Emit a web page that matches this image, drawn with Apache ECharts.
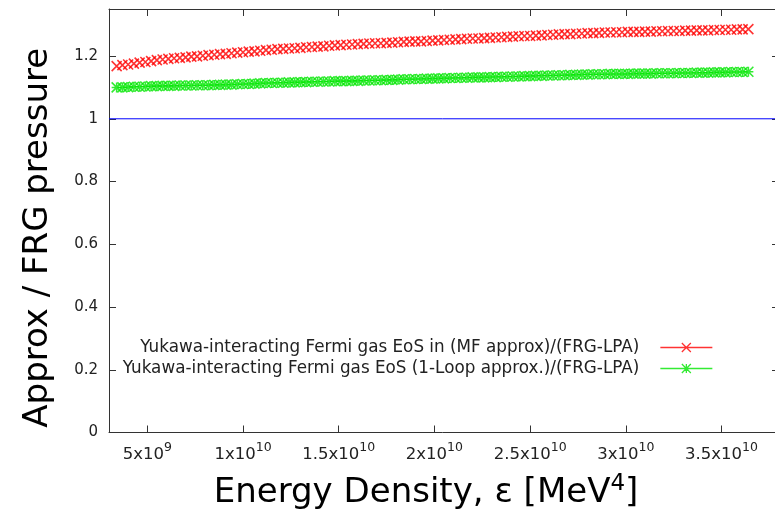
<!DOCTYPE html>
<html>
<head>
<meta charset="utf-8">
<script src="https://cdn.jsdelivr.net/npm/echarts@6/dist/echarts.min.js"></script>
<style>html,body{margin:0;padding:0;background:#fff}#c{width:775px;height:511px}</style>
</head>
<body>
<div id="c"></div>
<script>
// Energy density in units of 1e9 MeV^4
const energyDensityE9 = [
 3.4,3.7,4.0,4.3,4.6,4.9,5.2,5.5,5.8,6.1,6.4,6.7,7.0,7.3,7.6,7.9,8.2,8.5,8.8,9.1,
 9.4,9.7,10.0,10.3,10.6,10.9,11.2,11.5,11.8,12.1,12.4,12.7,13.0,13.3,13.6,13.9,14.2,14.5,14.8,15.1,
 15.4,15.7,16.0,16.3,16.6,16.9,17.2,17.5,17.8,18.1,18.4,18.7,19.0,19.3,19.6,19.9,20.2,20.5,20.8,21.1,
 21.4,21.7,22.0,22.3,22.6,22.9,23.2,23.5,23.8,24.1,24.4,24.7,25.0,25.3,25.6,25.9,26.2,26.5,26.8,27.1,
 27.4,27.7,28.0,28.3,28.6,28.9,29.2,29.5,29.8,30.1,30.4,30.7,31.0,31.3,31.6,31.9,32.2,32.5,32.8,33.1,
 33.4,33.7,34.0,34.3,34.6,34.9,35.2,35.5,35.8,36.1,36.4
];
const mfRatio = [
 1.168,1.171,1.173,1.176,1.179,1.181,1.184,1.187,1.189,1.191,1.193,1.194,1.196,1.198,1.199,1.201,1.203,1.204,1.206,1.207,
 1.209,1.211,1.212,1.214,1.215,1.217,1.219,1.220,1.222,1.223,1.224,1.225,1.226,1.228,1.229,1.230,1.231,1.233,1.234,1.235,
 1.236,1.237,1.238,1.239,1.240,1.241,1.241,1.242,1.243,1.244,1.245,1.246,1.247,1.247,1.248,1.249,1.250,1.251,1.252,1.253,
 1.254,1.255,1.256,1.256,1.257,1.258,1.259,1.260,1.261,1.262,1.263,1.264,1.264,1.265,1.266,1.267,1.268,1.269,1.270,1.270,
 1.271,1.272,1.273,1.273,1.274,1.275,1.275,1.276,1.276,1.277,1.277,1.277,1.278,1.278,1.279,1.279,1.280,1.280,1.280,1.281,
 1.281,1.282,1.282,1.282,1.283,1.283,1.284,1.284,1.285,1.285,1.286
];
const oneLoopRatio = [
 1.100,1.100,1.101,1.102,1.102,1.103,1.104,1.104,1.105,1.105,1.105,1.106,1.106,1.106,1.107,1.107,1.107,1.108,1.108,1.109,
 1.109,1.110,1.111,1.111,1.112,1.113,1.114,1.114,1.115,1.115,1.116,1.116,1.117,1.117,1.118,1.118,1.119,1.119,1.120,1.120,
 1.120,1.121,1.121,1.122,1.122,1.123,1.123,1.124,1.124,1.125,1.126,1.126,1.127,1.127,1.128,1.128,1.129,1.129,1.130,1.130,
 1.131,1.131,1.132,1.132,1.132,1.133,1.133,1.134,1.134,1.135,1.135,1.136,1.136,1.137,1.137,1.138,1.138,1.139,1.139,1.140,
 1.140,1.141,1.141,1.142,1.142,1.142,1.143,1.143,1.143,1.143,1.144,1.144,1.144,1.144,1.145,1.145,1.145,1.145,1.146,1.146,
 1.146,1.147,1.147,1.147,1.148,1.148,1.148,1.149,1.149,1.149,1.150
];
const referenceRatio = 1;
const seriesNames = [
 'Yukawa-interacting Fermi gas EoS in (MF approx)/(FRG-LPA)',
 'Yukawa-interacting Fermi gas EoS (1-Loop approx.)/(FRG-LPA)'
];
const xTickValues = [5e9, 1e10, 1.5e10, 2e10, 2.5e10, 3e10, 3.5e10];
const xTickLabels = ['5x10^9', '1x10^10', '1.5x10^10', '2x10^10', '2.5x10^10', '3x10^10', '3.5x10^10'];
const yTickValues = [0, 0.2, 0.4, 0.6, 0.8, 1, 1.2];
const yTickLabels = ['0', '0.2', '0.4', '0.6', '0.8', '1', '1.2'];
const xRange = [3e9, 3.8e10];
const yRange = [0, 1.35];
const xTitle = 'Energy Density, ε [MeV^4]';
const yTitle = 'Approx / FRG pressure';

const FONT = 'DejaVu Sans';
const RED = '#ff0000', GREEN = '#00e600', BLUE = '#0000ff', AX = '#333333';
const crossPath = 'path://M0,0L10,10M10,0L0,10';
const starPath = 'path://M0,0L10,10M10,0L0,10M5,0L5,10M0,5L10,5';

const mfData = energyDensityE9.map((e, i) => [e * 1e9, mfRatio[i]]);
const loopData = energyDensityE9.map((e, i) => [e * 1e9, oneLoopRatio[i]]);
const refData = [[xRange[0], referenceRatio], [xRange[1], referenceRatio]];

const toRich = (txt, b, s) => {
  const m = txt.match(/^(.*)\^(\w+)(.*)$/);
  if (!m) return '{' + b + '|' + txt + '}';
  return '{' + b + '|' + m[1] + '}{' + s + '|' + m[2] + '}' + (m[3] ? '{' + b + '|' + m[3] + '}' : '');
};
const xLabelFmt = v => {
  const i = xTickValues.findIndex(t => Math.abs(t - v) < 1);
  return i < 0 ? '' : toRich(xTickLabels[i], 'b', 's');
};
const yLabelFmt = v => {
  const i = yTickValues.findIndex(t => Math.abs(t - v) < 1e-9);
  return i < 0 ? '' : yTickLabels[i];
};

const chart = echarts.init(document.getElementById('c'), null, {renderer: 'canvas'});
chart.setOption({
  animation: false,
  backgroundColor: '#ffffff',
  textStyle: {fontFamily: FONT},
  grid: {left: 109, top: 9, right: -4, bottom: 78.5, containLabel: false, outerBoundsMode: 'none'},
  xAxis: [{
    type: 'value', min: xRange[0], max: xRange[1], position: 'bottom',
    name: toRich(xTitle, 't', 'ts'), nameLocation: 'middle', nameGap: 40,
    nameTextStyle: {padding: [0, 36, 0, 0],
      rich: {
        t: {fontSize: 34, color: '#000', fontFamily: FONT, verticalAlign: 'bottom', lineHeight: 38},
        ts: {fontSize: 23, color: '#000', fontFamily: FONT, verticalAlign: 'top', lineHeight: 26}
      }},
    axisLine: {show: true, onZero: false, lineStyle: {color: AX, width: 1}},
    axisTick: {show: true, inside: true, length: 7, customValues: xTickValues, lineStyle: {color: AX}},
    axisLabel: {show: true, customValues: xTickValues, formatter: xLabelFmt, margin: 9,
      rich: {
        b: {fontSize: 16.5, color: '#222', fontFamily: FONT, verticalAlign: 'bottom', lineHeight: 22},
        s: {fontSize: 12.5, color: '#222', fontFamily: FONT, verticalAlign: 'top', lineHeight: 13}
      }},
    splitLine: {show: false}
  }, {
    type: 'value', min: xRange[0], max: xRange[1], position: 'top',
    axisLine: {show: true, onZero: false, lineStyle: {color: AX, width: 1}},
    axisTick: {show: true, inside: true, length: 7, customValues: xTickValues, lineStyle: {color: AX}},
    axisLabel: {show: false}, splitLine: {show: false}
  }],
  yAxis: [{
    type: 'value', min: yRange[0], max: yRange[1], position: 'left',
    name: yTitle, nameLocation: 'middle', nameGap: 54, nameRotate: 90,
    nameTextStyle: {fontSize: 34, color: '#000', fontFamily: FONT, padding: [0, 34, 0, 0]},
    axisLine: {show: true, onZero: false, lineStyle: {color: AX, width: 1}},
    axisTick: {show: true, inside: true, length: 7, customValues: yTickValues, lineStyle: {color: AX}},
    axisLabel: {show: true, customValues: yTickValues, formatter: yLabelFmt, margin: 11,
      fontSize: 15, color: '#222', fontFamily: FONT},
    splitLine: {show: false}
  }, {
    type: 'value', min: yRange[0], max: yRange[1], position: 'right',
    axisLine: {show: true, onZero: false, lineStyle: {color: AX, width: 1}},
    axisTick: {show: true, inside: true, length: 7, customValues: yTickValues, lineStyle: {color: AX}},
    axisLabel: {show: false}, splitLine: {show: false}
  }],
  legend: [{
    right: 57, top: 334, orient: 'vertical', align: 'right',
    itemWidth: 52, itemHeight: 9, itemGap: 6,
    textStyle: {fontSize: 16.8, color: '#222', fontFamily: FONT, padding: [0, 16, 0, 0]},
    data: [{name: seriesNames[0], icon: 'path://M0,4.5L52,4.5M21.5,0L30.5,9M30.5,0L21.5,9',
      itemStyle: {color: 'rgba(0,0,0,0)', borderColor: RED, borderWidth: 1.3}}]
  }, {
    right: 57, top: 355, orient: 'vertical', align: 'right',
    itemWidth: 52, itemHeight: 9, itemGap: 6,
    textStyle: {fontSize: 16.8, color: '#222', fontFamily: FONT, padding: [0, 16, 0, 0]},
    data: [{name: seriesNames[1], icon: 'path://M0,4.5L52,4.5M21.5,0L30.5,9M30.5,0L21.5,9M26,0L26,9M21.5,4.5L30.5,4.5',
      itemStyle: {color: 'rgba(0,0,0,0)', borderColor: GREEN, borderWidth: 1.3}}]
  }],
  series: [{
    name: 'reference', type: 'line', data: refData, silent: true,
    showSymbol: false, symbol: 'none', color: BLUE,
    lineStyle: {color: BLUE, width: 1, type: 'solid'}
  }, {
    name: seriesNames[0], type: 'scatter', data: mfData,
    symbol: crossPath, symbolSize: 10,
    itemStyle: {color: 'rgba(0,0,0,0)', borderColor: RED, borderWidth: 1.6}
  }, {
    name: seriesNames[1], type: 'scatter', data: loopData,
    symbol: starPath, symbolSize: 10,
    itemStyle: {color: 'rgba(0,0,0,0)', borderColor: GREEN, borderWidth: 1.6}
  }]
});
</script>
</body>
</html>
